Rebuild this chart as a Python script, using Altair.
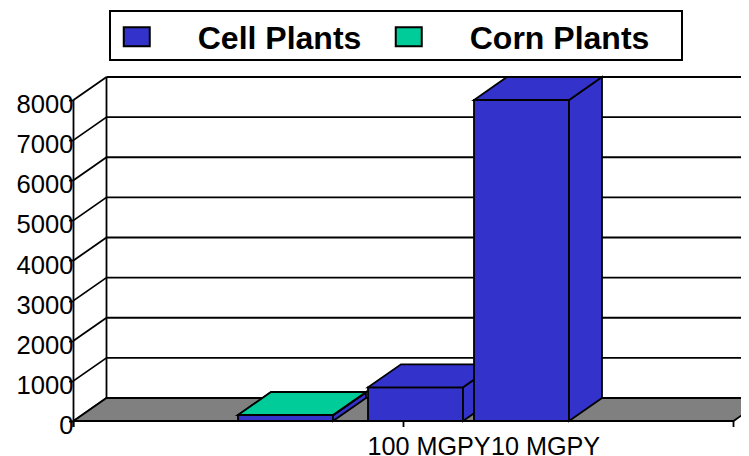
import altair as alt
import pandas as pd

# --- chart values
CATEGORIES = ["", "100 MGPY", "10 MGPY"]
SERIES = ["Cell Plants", "Corn Plants"]
CELL = [145, 840, 8000]
CORN = [5, 0, 0]
Y_TICKS = [0, 1000, 2000, 3000, 4000, 5000, 6000, 7000, 8000]

# --- layout constants (x units are plot pixels from the front axis)
AXIS_LEN = 660
DEPTH_X = 33
PX_PER_UNIT = 321 / 8000
DEPTH_Y = 23 / PX_PER_UNIT
BAR_LEFT = [164.5, 294.5, 400.5]
BAR_W = 95
LABEL_X = {"100 MGPY": 355, "10 MGPY": 471.5}
X_TICKS = [0, 330, 660]
TICK_DOWN = 6 / PX_PER_UNIT
BLUE = "#3333CC"
GREEN = "#00CC99"
FONT = "Liberation Sans"
LW = 1.8
PLOT_W = 667.5
BOX_X = (36.5, 608.5)
BOX_TOP_PX, BOX_BOTTOM_PX = 410, 361  # above the zero line

X = alt.Scale(domain=[0, PLOT_W], nice=False, zero=False)
Y = alt.Scale(domain=[0, 8000 + DEPTH_Y], nice=False, zero=False)

# back-wall and side-wall lines
lines = []
for t in Y_TICKS:
    lines.append(dict(id=f"g{t}", a=DEPTH_X, b=t + DEPTH_Y))
    lines.append(dict(id=f"g{t}", a=AXIS_LEN + DEPTH_X, b=t + DEPTH_Y))
    lines.append(dict(id=f"s{t}", a=0, b=t))
    lines.append(dict(id=f"s{t}", a=DEPTH_X, b=t + DEPTH_Y))
lines += [dict(id="front", a=0, b=-TICK_DOWN), dict(id="front", a=0, b=8000),
          dict(id="back", a=DEPTH_X, b=DEPTH_Y), dict(id="back", a=DEPTH_X, b=8000 + DEPTH_Y)]
for t in X_TICKS:
    lines += [dict(id=f"t{t}", a=t, b=-TICK_DOWN), dict(id=f"t{t}", a=t, b=0)]
line_df = pd.DataFrame(lines)

floor_df = pd.DataFrame([
    dict(a=0, lo=0, hi=0),
    dict(a=DEPTH_X, lo=0, hi=DEPTH_Y),
    dict(a=AXIS_LEN, lo=0, hi=DEPTH_Y),
    dict(a=AXIS_LEN + DEPTH_X, lo=DEPTH_Y, hi=DEPTH_Y),
])

box_df = pd.DataFrame([dict(x0=BOX_X[0], x1=BOX_X[1],
                            y0=BOX_BOTTOM_PX / PX_PER_UNIT, y1=BOX_TOP_PX / PX_PER_UNIT)])


def faces(order, series, left, base, top):
    r = left + BAR_W
    D, dx = DEPTH_Y, DEPTH_X
    rows = []
    for name, pts in (
        ("front", [(left, base, top), (r, base, top)]),
        ("side", [(r, base, top), (r + dx, base + D, top + D)]),
        ("top", [(left, top, top), (left + dx, top, top + D),
                 (r, top, top + D), (r + dx, top + D, top + D)]),
    ):
        for a, lo, hi in pts:
            rows.append(dict(face=f"{order}-{name}", series=series, a=a, lo=lo, hi=hi))
    return rows


rows = []
for i, left in enumerate(BAR_LEFT):
    rows += faces(f"{i}a", SERIES[0], left, 0, CELL[i])
    if CORN[i] > 0:
        rows += faces(f"{i}b", SERIES[1], left, CELL[i], CELL[i] + CORN[i])
bar_df = pd.DataFrame(rows)

label_expr = "datum.value == %s ? '%s' : '%s'" % (LABEL_X[CATEGORIES[1]], CATEGORIES[1], CATEGORIES[2])

X_AX = alt.Axis(values=list(LABEL_X.values()), labelExpr=label_expr, ticks=False, domain=False,
                grid=False, labelFontSize=25.2, labelFont=FONT, labelColor="black",
                labelPadding=13, labelOverlap=False, labelFlush=False, title=None)
Y_AX = alt.Axis(values=Y_TICKS, format="d", domain=False, grid=False, tickSize=5, tickColor="black",
                tickWidth=LW, labelPadding=-4.5, labelFontSize=25.6, labelFont=FONT,
                labelColor="black", labelOverlap=False, labelFlush=False, labelOffset=4.5,
                title=None, zindex=1)

base_lines = alt.Chart(line_df).mark_line(color="black", strokeWidth=LW, clip=False).encode(
    x=alt.X("a:Q", scale=X, axis=X_AX),
    y=alt.Y("b:Q", scale=Y, axis=Y_AX),
    detail="id:N",
)

floor = alt.Chart(floor_df).mark_area(color="#808080", stroke="black", strokeWidth=LW, clip=False).encode(
    x=alt.X("a:Q", scale=X, axis=X_AX),
    y=alt.Y("lo:Q", scale=Y, axis=Y_AX),
    y2="hi:Q",
)

bars = alt.Chart(bar_df).mark_area(stroke="black", strokeWidth=LW, clip=False, opacity=1).encode(
    x=alt.X("a:Q", scale=X, axis=X_AX),
    y=alt.Y("lo:Q", scale=Y, axis=Y_AX),
    y2="hi:Q",
    detail="face:N",
    color=alt.Color("series:N", scale=alt.Scale(domain=SERIES, range=[BLUE, GREEN]), title=None,
                    legend=alt.Legend(orient="none", legendX=47.25, legendY=-54, columns=2,
                                      direction="horizontal",
                                      symbolType="M-1.3,-1.18H1.3V0.72H-1.3Z", symbolSize=400,
                                      symbolStrokeColor="black", symbolStrokeWidth=2, symbolOpacity=1,
                                      labelFont=FONT, labelFontSize=32, labelFontWeight="bold",
                                      labelColor="black", labelOffset=45, labelLimit=400, columnPadding=30,
                                      padding=0)),
)

box = alt.Chart(box_df).mark_rect(fill="white", stroke="black", strokeWidth=2, clip=False).encode(
    x=alt.X("x0:Q", scale=X, axis=X_AX),
    x2="x1:Q",
    y=alt.Y("y0:Q", scale=Y, axis=Y_AX),
    y2="y1:Q",
)

chart = (
    alt.layer(base_lines, floor, bars, box)
    .properties(width=PLOT_W, height=344,
                padding={"left": 65.5, "top": 69, "right": 0, "bottom": 35},
                autosize=alt.AutoSizeParams(type="none"))
    .configure_view(stroke=None)
)
chart.save("out.html", embed_options={"renderer": "svg", "actions": False})
